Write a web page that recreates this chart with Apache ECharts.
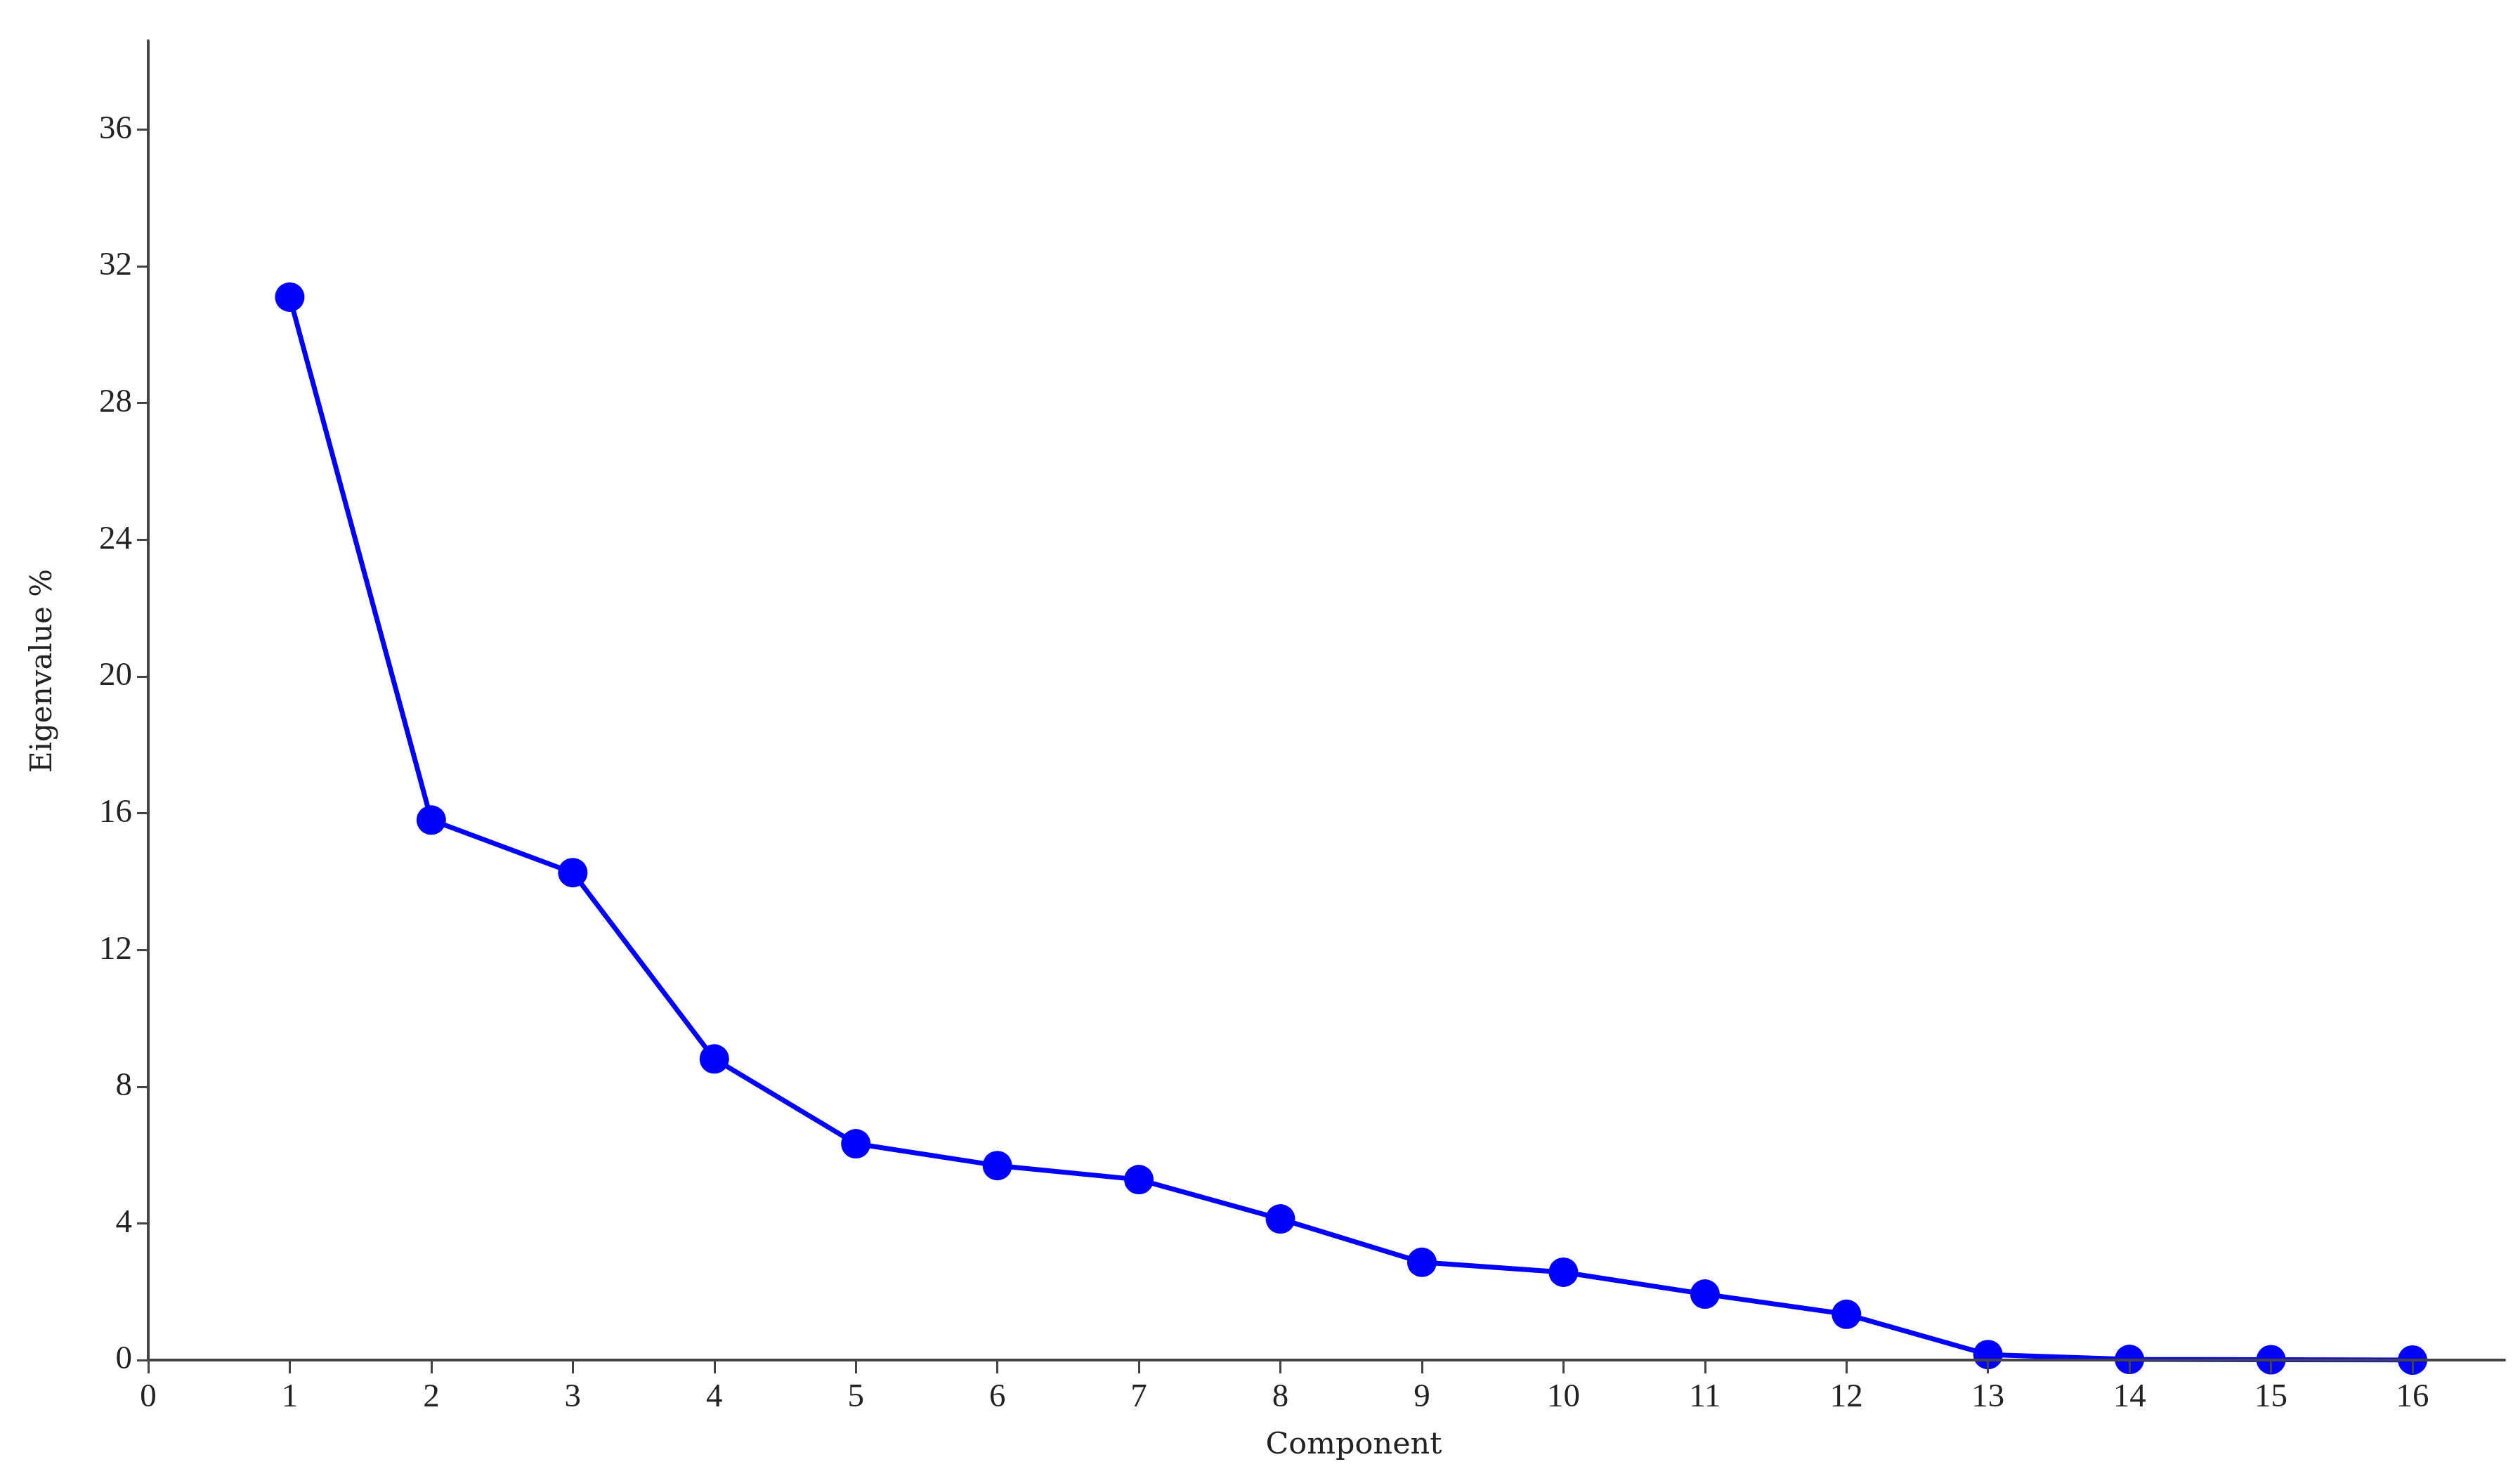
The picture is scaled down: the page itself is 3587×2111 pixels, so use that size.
<!DOCTYPE html>
<html>
<head>
<meta charset="utf-8">
<script src="https://cdn.jsdelivr.net/npm/echarts@6/dist/echarts.min.js"></script>
<style>
html,body{margin:0;padding:0;background:#fff;}
#chart{width:3587px;height:2111px;}
</style>
</head>
<body>
<div id="chart"></div>
<script>
const components = [1,2,3,4,5,6,7,8,9,10,11,12,13,14,15,16];
const eigenvaluePct = [31.1,15.8,14.26,8.81,6.33,5.69,5.28,4.13,2.86,2.57,1.93,1.34,0.16,0.02,0.01,0.0];
const xTicks = [0,1,2,3,4,5,6,7,8,9,10,11,12,13,14,15,16];
const yTicks = [0,4,8,12,16,20,24,28,32,36];
const xName = 'Component';
const yName = 'Eigenvalue %';

const seriesData = components.map((c, i) => [c, eigenvaluePct[i]]);

const chart = echarts.init(document.getElementById('chart'));
const axisColor = '#444';
const labelFont = { fontFamily: '"Liberation Serif", serif', fontSize: 47, color: '#222' };
chart.setOption({
  animation: false,
  backgroundColor: '#fff',
  grid: { left: 211, right: 22, top: 58, bottom: 175, containLabel: false },
  xAxis: {
    type: 'value', min: 0, max: 16.65, interval: 1, z: 5,
    name: xName, nameLocation: 'middle', nameGap: 100,
    nameTextStyle: { fontFamily: '"DejaVu Serif", serif', fontSize: 43, color: '#222', padding: [0,0,0,78] },
    splitLine: { show: false },
    axisLine: { show: true, lineStyle: { color: axisColor, width: 4 } },
    axisTick: { show: true, length: 19, lineStyle: { color: axisColor, width: 3 }, customValues: xTicks },
    axisLabel: Object.assign({ margin: 30, customValues: xTicks }, labelFont)
  },
  yAxis: {
    type: 'value', min: 0, max: 38.6, interval: 4, z: 5,
    name: yName, nameLocation: 'middle', nameGap: 128, nameRotate: 90,
    nameTextStyle: { fontFamily: '"DejaVu Serif", serif', fontSize: 42, color: '#222', padding: [0,0,0,84] },
    splitLine: { show: false },
    axisLine: { show: true, lineStyle: { color: axisColor, width: 4 } },
    axisTick: { show: true, length: 16, lineStyle: { color: axisColor, width: 3 }, customValues: yTicks },
    axisLabel: Object.assign({ margin: 23, customValues: yTicks }, labelFont)
  },
  series: [{
    type: 'line',
    data: seriesData,
    symbol: 'circle',
    symbolSize: 42,
    lineStyle: { color: '#0000ff', width: 7 },
    itemStyle: { color: '#0000ff' },
    z: 2
  }]
});
</script>
</body>
</html>
